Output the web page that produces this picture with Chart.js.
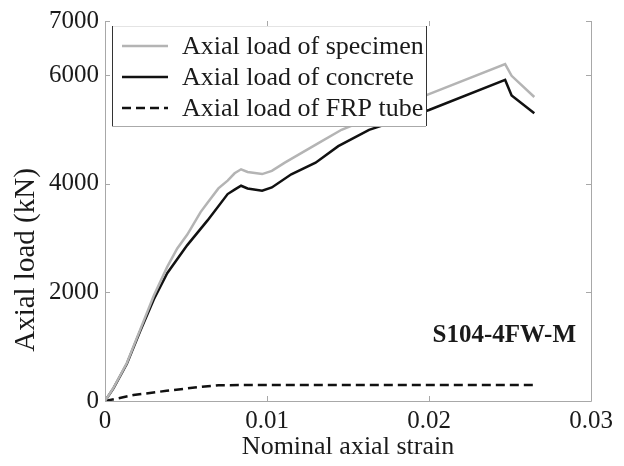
<!DOCTYPE html>
<html lang="en">
<head>
    <meta charset="UTF-8">
    <title>S104-4FW-M axial load</title>
    <script src="https://cdn.jsdelivr.net/npm/chart.js"></script>
    <style>
        html, body { margin: 0; padding: 0; background: #ffffff; }
        #wrap { width: 624px; height: 466px; }
    </style>
</head>
<body>
    <div id="wrap"><canvas id="loadChart" width="624" height="466"></canvas></div>

    <script>
        // values
        const specimenStrain = [0, 0.00052, 0.00135, 0.00218, 0.00301, 0.00384, 0.00446, 0.00508, 0.0059, 0.00633, 0.0070, 0.00757, 0.0080, 0.0084, 0.0088, 0.0097, 0.0103, 0.0111, 0.0132, 0.0146, 0.0200, 0.0247, 0.0251, 0.0265];
        const specimenLoad = [0, 240, 700, 1320, 1940, 2470, 2810, 3066, 3480, 3650, 3916, 4060, 4195, 4268, 4220, 4180, 4239, 4390, 4754, 4996, 5652, 6205, 5990, 5600];

        const concreteStrain = [0, 0.00052, 0.00135, 0.00218, 0.00301, 0.00384, 0.00508, 0.00633, 0.00757, 0.0080, 0.0084, 0.0088, 0.0097, 0.0103, 0.0115, 0.0130, 0.0144, 0.0163, 0.0200, 0.0247, 0.0251, 0.0265];
        const concreteLoad = [0, 231, 686, 1293, 1870, 2355, 2872, 3327, 3812, 3893, 3965, 3916, 3875, 3934, 4177, 4390, 4694, 4996, 5361, 5915, 5630, 5300];

        const tubeStrain = [0, 0.00176, 0.0038, 0.0059, 0.0070, 0.0100, 0.0265];
        const tubeLoad = [0, 109, 188, 260, 291, 295, 295];

        const xTicks = [0, 0.01, 0.02, 0.03];
        const yTicks = [0, 2000, 4000, 6000, 7000];
        const seriesNames = ['Axial load of specimen', 'Axial load of concrete', 'Axial load of FRP tube'];
        const specimenLabel = 'S104-4FW-M';

        const serif = "'Liberation Serif', 'Times New Roman', serif";

        function toPoints(xs, ys) {
            return xs.map((x, i) => ({ x: x, y: ys[i] }));
        }

        const lineStyles = [
            { color: '#b4b4b4', width: 2.5, dash: [] },
            { color: '#111111', width: 2.5, dash: [] },
            { color: '#111111', width: 2.5, dash: [9, 5] }
        ];

        // frame, inward ticks, legend box, label
        const decorPlugin = {
            id: 'decor',
            afterDatasetsDraw(chart) {
                const ctx = chart.ctx;
                const a = chart.chartArea;
                const xs = chart.scales.x;
                const ys = chart.scales.y;
                ctx.save();

                // axis box (no top line visible in reference)
                ctx.strokeStyle = '#a8a8a8';
                ctx.lineWidth = 1;
                ctx.beginPath();
                ctx.moveTo(a.left + 0.5, a.top);
                ctx.lineTo(a.left + 0.5, a.bottom + 0.5);
                ctx.lineTo(a.right + 0.5, a.bottom + 0.5);
                ctx.lineTo(a.right + 0.5, a.top);
                ctx.stroke();

                ctx.beginPath();
                xTicks.forEach(v => {
                    const px = Math.round(xs.getPixelForValue(v)) + 0.5;
                    ctx.moveTo(px, a.bottom);
                    ctx.lineTo(px, a.bottom - 5);
                    ctx.moveTo(px, a.top);
                    ctx.lineTo(px, a.top + 5);
                });
                yTicks.forEach(v => {
                    const py = Math.round(ys.getPixelForValue(v)) + 0.5;
                    ctx.moveTo(a.left, py);
                    ctx.lineTo(a.left + 5, py);
                    ctx.moveTo(a.right, py);
                    ctx.lineTo(a.right - 5, py);
                });
                ctx.stroke();

                // legend box
                const lx = 112, ly = 26, lw = 314, lh = 100;
                ctx.fillStyle = '#ffffff';
                ctx.fillRect(lx, ly, lw, lh);
                ctx.lineWidth = 1;
                ctx.strokeStyle = '#e4e4e4';
                ctx.beginPath();
                ctx.moveTo(lx, ly + 0.5);
                ctx.lineTo(lx + lw, ly + 0.5);
                ctx.stroke();
                ctx.strokeStyle = '#aaaaaa';
                ctx.beginPath();
                ctx.moveTo(lx, ly + lh + 0.5);
                ctx.lineTo(lx + lw, ly + lh + 0.5);
                ctx.stroke();
                ctx.strokeStyle = '#333333';
                ctx.beginPath();
                ctx.moveTo(lx + 0.5, ly);
                ctx.lineTo(lx + 0.5, ly + lh);
                ctx.moveTo(lx + lw + 0.5, ly);
                ctx.lineTo(lx + lw + 0.5, ly + lh);
                ctx.stroke();

                const rows = [46, 77, 108];
                ctx.font = '26px ' + serif;
                ctx.textBaseline = 'middle';
                ctx.textAlign = 'left';
                seriesNames.forEach((name, i) => {
                    const st = lineStyles[i];
                    ctx.strokeStyle = st.color;
                    ctx.lineWidth = st.width;
                    ctx.setLineDash(st.dash);
                    ctx.beginPath();
                    ctx.moveTo(122, rows[i]);
                    ctx.lineTo(168, rows[i]);
                    ctx.stroke();
                    ctx.setLineDash([]);
                    ctx.fillStyle = '#1a1a1a';
                    ctx.fillText(name, 182, rows[i] + 1);
                });

                // specimen label
                ctx.font = 'bold 25px ' + serif;
                ctx.textAlign = 'right';
                ctx.fillStyle = '#1a1a1a';
                ctx.fillText(specimenLabel, 576, 336);

                // y axis title
                ctx.font = '29px ' + serif;
                ctx.translate(26, 260);
                ctx.rotate(-Math.PI / 2);
                ctx.textAlign = 'center';
                ctx.fillText('Axial load (kN)', 0, 0);
                ctx.restore();
            }
        };

        const ctx = document.getElementById('loadChart').getContext('2d');
        new Chart(ctx, {
            type: 'line',
            data: {
                datasets: [
                    { label: seriesNames[0], data: toPoints(specimenStrain, specimenLoad) },
                    { label: seriesNames[1], data: toPoints(concreteStrain, concreteLoad) },
                    { label: seriesNames[2], data: toPoints(tubeStrain, tubeLoad) }
                ].map((d, i) => Object.assign(d, {
                    borderColor: lineStyles[i].color,
                    borderWidth: lineStyles[i].width,
                    borderDash: lineStyles[i].dash,
                    pointRadius: 0,
                    tension: 0,
                    fill: false
                }))
            },
            options: {
                responsive: false,
                animation: false,
                layout: { padding: { top: 17, right: 33, left: 0, bottom: 0 } },
                plugins: { legend: { display: false }, tooltip: { enabled: false } },
                scales: {
                    x: {
                        type: 'linear',
                        min: 0,
                        max: 0.03,
                        afterBuildTicks: s => { s.ticks = xTicks.map(v => ({ value: v })); },
                        afterFit: s => { s.height = 65; },
                        grid: { display: false, drawTicks: false },
                        border: { display: false },
                        ticks: {
                            padding: 5,
                            color: '#1a1a1a',
                            maxRotation: 0,
                            font: { family: serif, size: 25 },
                            callback: v => String(v)
                        },
                        title: {
                            display: true,
                            text: 'Nominal axial strain',
                            color: '#1a1a1a',
                            font: { family: serif, size: 26 },
                            padding: { top: 0, bottom: 3 }
                        }
                    },
                    y: {
                        min: 0,
                        max: 7000,
                        afterBuildTicks: s => { s.ticks = yTicks.map(v => ({ value: v })); },
                        afterFit: s => { s.width = 105; },
                        grid: { display: false, drawTicks: false },
                        border: { display: false },
                        ticks: {
                            padding: 6,
                            color: '#1a1a1a',
                            font: { family: serif, size: 25 },
                            callback: v => String(v)
                        }
                    }
                }
            },
            plugins: [decorPlugin]
        });
    </script>
</body>
</html>
